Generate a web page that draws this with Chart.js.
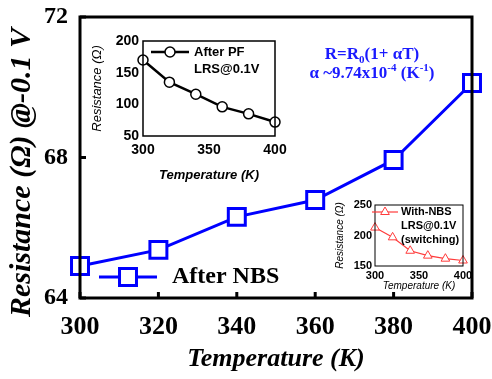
<!DOCTYPE html>
<html>
<head>
<meta charset="utf-8">
<script src="https://cdn.jsdelivr.net/npm/chart.js@4.4.1/dist/chart.umd.min.js"></script>
<style>
html, body { margin: 0; padding: 0; background: #fff; }
#wrap { position: relative; width: 492px; height: 379px; overflow: hidden; }
#wrap canvas { position: absolute; }
#note { position: absolute; left: 292px; top: 44px; width: 160px; text-align: center; color: #1a1aff;
        font: bold 17px 'Liberation Serif', 'Times New Roman', serif; line-height: 19px; }
#note sub, #note sup { font-size: 11px; line-height: 0; }
</style>
</head>
<body>
<div id="wrap">
  <canvas id="cMain" style="left:0;top:0" width="492" height="379"></canvas>
  <canvas id="cPF" style="left:90px;top:32px" width="205" height="155"></canvas>
  <canvas id="cNBS" style="left:334px;top:196px" width="140" height="100"></canvas>
  <div id="note">R=R<sub>0</sub>(1+ &alpha;T)<br>&alpha; ~9.74x10<sup>-4</sup> (K<sup>-1</sup>)</div>
</div>
<script>
// ===== Resistance vs temperature, with two insets =====
const temps = [300, 320, 340, 360, 380, 400];
const nbsRes = [64.91, 65.37, 66.31, 66.79, 67.93, 70.12];      // main, After NBS @ -0.1 V
const pfRes = [170, 135, 116, 96, 85, 72];                      // inset: After PF, LRS@0.1V
const switchRes = [213, 197, 175, 167, 162, 159];               // inset: With-NBS (switching)
const mainYTicks = [64, 68, 72];
const mainXTicks = [300, 320, 340, 360, 380, 400];

const SERIF = "'Liberation Serif', 'Times New Roman', serif";
const SANS = "'Liberation Sans', Arial, sans-serif";
const BLUE = '#0000ff';
const RED = '#ff3b3b';

const pts = ys => temps.map((t, i) => ({ x: t, y: ys[i] }));

// white plot box + frame + inward ticks + legend, shared by all three charts
const framePlugin = {
    id: 'frame',
    beforeDraw(chart) {
        const a = chart.chartArea, ctx = chart.ctx;
        ctx.save();
        ctx.fillStyle = '#fff';
        ctx.fillRect(a.left, a.top, a.right - a.left, a.bottom - a.top);
        ctx.restore();
    },
    afterDatasetsDraw(chart, args, o) {
        const a = chart.chartArea, ctx = chart.ctx;
        ctx.save();
        ctx.strokeStyle = '#000';
        ctx.lineWidth = o.lw;
        ctx.strokeRect(a.left, a.top, a.right - a.left, a.bottom - a.top);
        // inward ticks
        const xs = chart.scales.x, ys = chart.scales.y;
        if (o.tick) {
            xs.ticks.forEach(t => {
                const px = xs.getPixelForValue(t.value);
                ctx.beginPath(); ctx.moveTo(px, a.bottom); ctx.lineTo(px, a.bottom - o.tick); ctx.stroke();
            });
            ys.ticks.forEach(t => {
                const py = ys.getPixelForValue(t.value);
                ctx.beginPath(); ctx.moveTo(a.left, py); ctx.lineTo(a.left + o.tick, py); ctx.stroke();
            });
        }
        // legend
        const L = o.legend, ds = chart.data.datasets[0];
        ctx.strokeStyle = ds.borderColor;
        ctx.lineWidth = ds.borderWidth;
        ctx.beginPath(); ctx.moveTo(L.x0, L.y); ctx.lineTo(L.x1, L.y); ctx.stroke();
        ctx.fillStyle = '#fff';
        ctx.lineWidth = ds.pointBorderWidth;
        Chart.helpers.drawPoint(ctx, {
            pointStyle: ds.pointStyle, radius: ds.pointRadius, borderWidth: ds.pointBorderWidth, rotation: 0
        }, (L.x0 + L.x1) / 2, L.y);
        ctx.fillStyle = '#000';
        ctx.font = L.font;
        ctx.textBaseline = 'middle';
        L.lines.forEach((s, i) => ctx.fillText(s, L.tx, L.y + i * L.lh));
        ctx.restore();
    }
};

function makeChart(id, cfg) {
    return new Chart(document.getElementById(id).getContext('2d'), {
        type: 'line',
        data: { datasets: [Object.assign({
            data: pts(cfg.values), fill: false, tension: 0, clip: false,
            pointBackgroundColor: '#fff'
        }, cfg.ds)] },
        options: {
            responsive: false, animation: false, devicePixelRatio: 1,
            layout: { autoPadding: false, padding: cfg.pad },
            plugins: { legend: { display: false }, tooltip: { enabled: false }, frame: cfg.frame },
            scales: {
                x: {
                    type: 'linear', min: temps[0], max: temps[temps.length - 1],
                    afterFit: s => { s.height = cfg.xh; s.paddingLeft = 0; s.paddingRight = 0; },
                    afterBuildTicks: s => { s.ticks = cfg.xTicks.map(v => ({ value: v })); },
                    grid: { display: false, drawTicks: false },
                    border: { display: false },
                    ticks: { color: '#000', font: cfg.tickFontX, padding: cfg.xPad, maxRotation: 0 },
                    title: { display: true, text: 'Temperature (K)', color: '#000', font: cfg.titleFontX, padding: cfg.xTitlePad }
                },
                y: {
                    min: cfg.yTicks[0], max: cfg.yTicks[cfg.yTicks.length - 1],
                    afterFit: s => { s.width = cfg.yw; s.paddingTop = 0; s.paddingBottom = 0; },
                    afterBuildTicks: s => { s.ticks = cfg.yTicks.map(v => ({ value: v })); },
                    grid: { display: false, drawTicks: false },
                    border: { display: false },
                    ticks: { color: '#000', font: cfg.tickFontY, padding: cfg.yPad },
                    title: { display: true, text: cfg.yTitle, color: '#000', font: cfg.titleFontY, padding: cfg.yTitlePad }
                }
            }
        },
        plugins: [framePlugin]
    });
}

Chart.defaults.font.family = SANS;

// main chart
makeChart('cMain', {
    values: nbsRes,
    ds: { borderColor: BLUE, borderWidth: 3, pointStyle: 'rect', pointRadius: 12, pointBorderWidth: 3,
          pointBorderColor: BLUE },
    pad: { top: 17, right: 20, left: 0, bottom: 0 },
    xh: 81, yw: 80,
    xTicks: mainXTicks, yTicks: mainYTicks,
    tickFontX: { family: SERIF, size: 26, weight: 'bold' },
    tickFontY: { family: SERIF, size: 24, weight: 'bold' },
    titleFontX: { family: SERIF, size: 26, weight: 'bold', style: 'italic' },
    titleFontY: { family: SERIF, size: 30, weight: 'bold', style: 'italic' },
    xPad: 14, yPad: 12, xTitlePad: { top: 12 }, yTitlePad: { bottom: 2, top: 4 },
    yTitle: 'Resistance (\u03A9) @-0.1 V\u2003',
    frame: { lw: 3, tick: 6, legend: { x0: 99, x1: 157, y: 277, tx: 172, lh: 0, font: `bold 24px ${SERIF}`, lines: ['After NBS'] } }
});

// inset: After PF
makeChart('cPF', {
    values: pfRes,
    ds: { borderColor: '#000', borderWidth: 2.5, pointStyle: 'circle', pointRadius: 5, pointBorderWidth: 1.5,
          pointBorderColor: '#000' },
    pad: { top: 9, right: 20, left: 0, bottom: 0 },
    xh: 51, yw: 53,
    xTicks: [300, 350, 400], yTicks: [50, 100, 150, 200],
    tickFontX: { size: 14, weight: 'bold' },
    tickFontY: { size: 14, weight: 'bold' },
    titleFontX: { size: 13, weight: 'bold', style: 'italic' },
    titleFontY: { size: 13, style: 'italic' },
    xPad: 6, yPad: 4, xTitlePad: { top: 2 }, yTitlePad: { bottom: 0, top: 0 },
    yTitle: 'Resistance (\u03A9)',
    frame: { lw: 1.5, tick: 0, legend: { x0: 61, x1: 99, y: 20, tx: 104, lh: 17, font: `bold 13px ${SANS}`, lines: ['After PF', 'LRS@0.1V'] } }
});

// inset: With-NBS switching
makeChart('cNBS', {
    values: switchRes,
    ds: { borderColor: RED, borderWidth: 1.2, pointStyle: 'triangle', pointRadius: 5, pointBorderWidth: 1,
          pointBorderColor: RED },
    pad: { top: 9, right: 11, left: 0, bottom: 0 },
    xh: 30, yw: 41,
    xTicks: [300, 350, 400], yTicks: [150, 200, 250],
    tickFontX: { size: 11, weight: 'bold' },
    tickFontY: { size: 11, weight: 'bold' },
    titleFontX: { size: 10, style: 'italic' },
    titleFontY: { size: 10, style: 'italic' },
    xPad: 3, yPad: 3, xTitlePad: { top: 0 }, yTitlePad: { bottom: 0, top: 0 },
    yTitle: 'Resistance (\u03A9)',
    frame: { lw: 1, tick: 0, legend: { x0: 38, x1: 64, y: 16, tx: 67, lh: 14, font: `bold 11px ${SANS}`, lines: ['With-NBS', 'LRS@0.1V', '(switching)'] } }
});
</script>
</body>
</html>
